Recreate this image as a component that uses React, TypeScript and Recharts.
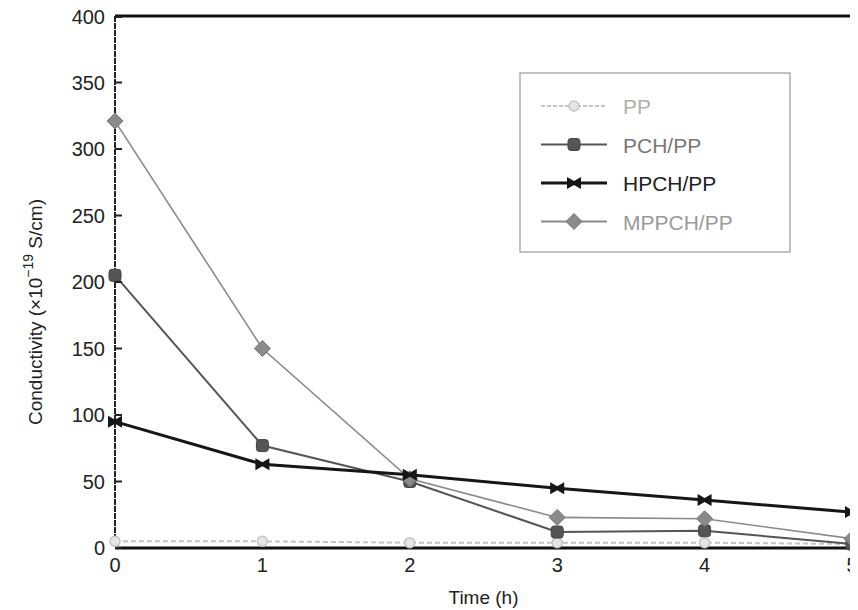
import React from "react";
import { LineChart, Line, XAxis, YAxis, ReferenceLine } from "recharts";

const times = [0, 1, 2, 3, 4, 5];
const ppValues = [5, 5, 4, 4, 4, 3];
const pchValues = [205, 77, 50, 12, 13, 3];
const hpchValues = [95, 63, 55, 45, 36, 27];
const mppchValues = [321, 150, 52, 23, 22, 7];
const xTicks = [0, 1, 2, 3, 4, 5];
const yTicks = [0, 50, 100, 150, 200, 250, 300, 350, 400];
const seriesNames = ["PP", "PCH/PP", "HPCH/PP", "MPPCH/PP"];

const data = times.map((t, i) => ({
  t,
  pp: ppValues[i],
  pch: pchValues[i],
  hpch: hpchValues[i],
  mppch: mppchValues[i],
}));

const FONT = "'Liberation Sans', Arial, sans-serif";

const colors = { pp: "#c4c4c4", pch: "#555555", hpch: "#161616", mppch: "#8a8a8a" };

const Marker = ({ kind, cx, cy }: any) => {
  if (cx == null || cy == null) return null;
  if (kind === "pp")
    return <circle cx={cx} cy={cy} r={5} fill="#e6e6e6" stroke={colors.pp} strokeWidth={1.5} />;
  if (kind === "pch")
    return <rect x={cx - 6} y={cy - 6} width={12} height={12} rx={3} fill={colors.pch} stroke="#444" />;
  if (kind === "hpch")
    return (
      <path
        d={`M${cx - 7},${cy - 6} L${cx},${cy - 2} L${cx + 7},${cy - 6} L${cx + 7},${cy + 6} L${cx},${cy + 2} L${cx - 7},${cy + 6} Z`}
        fill={colors.hpch}
      />
    );
  return (
    <path d={`M${cx},${cy - 8} L${cx + 8},${cy} L${cx},${cy + 8} L${cx - 8},${cy} Z`} fill={colors.mppch} stroke="#777" />
  );
};

const YTick = ({ x, y, payload }: any) => (
  <g>
    <line x1={x + 8} x2={x + 15} y1={y} y2={y} stroke="#222" strokeWidth={2} />
    <text x={x - 2} y={y} dy={7} textAnchor="end" fontSize={20} fontFamily={FONT} fill="#222">
      {payload.value}
    </text>
  </g>
);

const XTick = ({ x, y, payload }: any) => (
  <text x={x} y={y} dy={16} textAnchor="middle" fontSize={20} fontFamily={FONT} fill="#222">
    {payload.value}
  </text>
);

const YLabel = ({ viewBox }: any) => {
  const cx = 34;
  const cy = viewBox.y + viewBox.height / 2 + 30;
  return (
    <text
      transform={`rotate(-90 ${cx} ${cy})`}
      x={cx}
      y={cy}
      textAnchor="middle"
      fontSize={19}
      fontFamily={FONT}
      fill="#222"
    >
      Conductivity (×10
      <tspan dy={-9} fontSize={14}>−19</tspan>
      <tspan dy={9}> S/cm)</tspan>
    </text>
  );
};

const LegendBox = () => {
  const keys = ["pp", "pch", "hpch", "mppch"];
  const textColors = ["#b0b0b0", "#777", "#222", "#9a9a9a"];
  return (
    <svg width={272} height={182} style={{ display: "block" }}>
      <rect x={1} y={1} width={270} height={179} fill="#fff" stroke="#999" strokeWidth={1.2} />
      {keys.map((k, i) => {
        const y = 34 + i * 38.5;
        return (
          <g key={k}>
            <line
              x1={22}
              x2={88}
              y1={y}
              y2={y}
              stroke={(colors as any)[k]}
              strokeWidth={k === "hpch" ? 3 : 2}
              strokeDasharray={k === "pp" ? "4 2" : undefined}
            />
            <Marker kind={k} cx={55} cy={y} />
            <text x={104} y={y} dy={8} fontSize={21} fontFamily={FONT} fill={textColors[i]}>
              {seriesNames[i]}
            </text>
          </g>
        );
      })}
    </svg>
  );
};

export default function App() {
  return (
    <div style={{ width: 850, height: 600, position: "relative" }}>
      <LineChart width={850} height={600} data={data} margin={{ top: 8, right: 6, left: 7, bottom: 0 }}>
        <XAxis
          dataKey="t"
          type="number"
          domain={[0, 5]}
          ticks={xTicks}
          tick={<XTick />}
          tickLine={false}
          axisLine={{ stroke: "#111", strokeWidth: 3 }}
          height={60}
          label={{ value: "Time (h)", position: "insideBottom", offset: 4, fontSize: 19, fontFamily: FONT, fill: "#222" }}
        />
        <YAxis
          type="number"
          domain={[0, 400]}
          ticks={yTicks}
          tick={<YTick />}
          tickLine={false}
          axisLine={{ stroke: "#222", strokeWidth: 2, strokeDasharray: "6 1" }}
          width={100}
          label={<YLabel />}
        />
        <ReferenceLine y={400} stroke="#111" strokeWidth={3} />
        <ReferenceLine x={5} stroke="#111" strokeWidth={2} />
        <Line
          dataKey="pp"
          name={seriesNames[0]}
          stroke={colors.pp}
          strokeWidth={2}
          strokeDasharray="5 3"
          dot={<Marker kind="pp" />}
          isAnimationActive={false}
        />
        <Line
          dataKey="pch"
          name={seriesNames[1]}
          stroke={colors.pch}
          strokeWidth={2}
          dot={<Marker kind="pch" />}
          isAnimationActive={false}
        />
        <Line
          dataKey="mppch"
          name={seriesNames[3]}
          stroke={colors.mppch}
          strokeWidth={1.6}
          dot={<Marker kind="mppch" />}
          isAnimationActive={false}
        />
        <Line
          dataKey="hpch"
          name={seriesNames[2]}
          stroke={colors.hpch}
          strokeWidth={3}
          dot={<Marker kind="hpch" />}
          isAnimationActive={false}
        />
      </LineChart>
      <div style={{ position: "absolute", left: 511, top: 64 }}>
        <LegendBox />
      </div>
    </div>
  );
}
